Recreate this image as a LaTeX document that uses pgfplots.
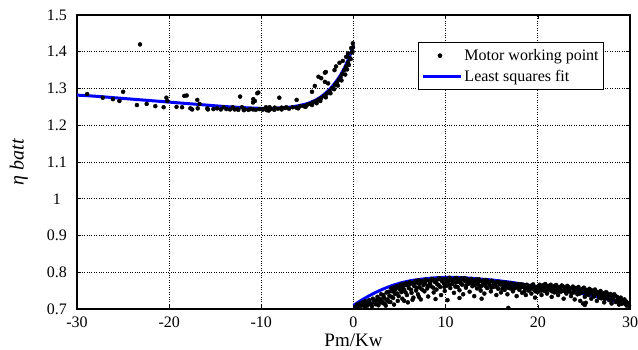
\documentclass[border=0pt]{standalone}
\usepackage{fontspec}
\setmainfont{Liberation Serif}
\usepackage{pgfplots}
\pgfplotsset{compat=1.18}
\definecolor{fitblue}{RGB}{0,0,255}
\pgfplotsset{
  dotlegend/.style={legend image code/.code={\draw[##1] plot coordinates {(17pt,0pt)};}},
  linelegend/.style={legend image code/.code={\draw[##1] (0pt,0pt) -- (38pt,0pt);}},
}
\begin{document}
\begin{tikzpicture}[x=1pt,y=1pt]
\path[use as bounding box] (-77,-40) rectangle (561,309);
\begin{axis}[
  at={(0,0)}, anchor=south west, scale only axis,
  width=553pt, height=294pt,
  xmin=-30, xmax=30, ymin=0.7, ymax=1.5,
  xtick={-30,-20,-10,0,10,20,30},
  xticklabels={-30,-20,-10,0,10,20,30},
  ytick={0.7,0.8,0.9,1,1.1,1.2,1.3,1.4,1.5},
  yticklabels={0.7,0.8,0.9,1,1.1,1.2,1.3,1.4,1.5},
  /pgf/number format/assume math mode=true,
  tick label style={font=\fontsize{16}{19}\selectfont, black},
  yticklabel style={anchor=center, xshift=-20pt},
  xticklabel style={anchor=base, yshift=-18pt, inner sep=0pt},
  grid=major,
  grid style={dotted, black, line width=0.8pt},
  axis line style={line width=1.6pt, black},
  tick style={black, line width=0.6pt},
  major tick length=4pt,
  xlabel={Pm/Kw},
  ylabel={\textit{η batt}},
  label style={font=\fontsize{20}{23}\selectfont},
  xlabel style={font=\fontsize{19}{22}\selectfont, at={(axis description cs:0.5,-0.126)}, anchor=base, inner sep=0pt},
  ylabel style={at={(axis description cs:-0.105,0.5)}, anchor=center},
  legend style={at={(0.953,0.908)}, anchor=north east,
    font=\fontsize{16}{19}\selectfont, draw=black, line width=0.6pt,
    inner xsep=3pt, inner ysep=5pt, row sep=4pt},
  legend cell align=left,
]
\addplot[only marks, mark=*, mark size=2pt, black, dotlegend]
coordinates {
(-28.9,1.285)(-27.2,1.275)(-26.1,1.271)(-25.4,1.266)(-25.0,1.291)(-23.16,1.420)
(-23.5,1.255)(-22.44,1.258)(-21.5,1.252)(-20.6,1.249)(-20.3,1.275)(-20.2,1.266)
(-19.2,1.250)(-18.6,1.249)(-18.36,1.280)(-18.1,1.281)(-17.7,1.246)(-17.5,1.243)
(-16.95,1.269)(-16.9,1.246)(-16.7,1.258)(-15.86,1.246)(-15.8,1.243)(-15.2,1.244)
(-14.8,1.246)(-14.4,1.243)(-14.1,1.249)(-13.8,1.244)(-13.4,1.243)(-13.1,1.249)
(-12.9,1.243)(-12.6,1.244)(-12.3,1.278)(-12.1,1.249)(-11.8,1.243)(-11.4,1.242)
(-10.87,1.271)(-10.7,1.266)(-10.44,1.287)(-10.33,1.289)(-10.9,1.262)(-10.9,1.243)
(-9.9,1.243)(-9.5,1.249)(-9.1,1.249)(-8.55,1.248)(-8.05,1.275)(-7.8,1.248)
(-7.3,1.249)(-6.17,1.269)(-4.5,1.291)(-4.2,1.307)(-3.8,1.332)(-3.5,1.328)
(-3.1,1.343)(-3.0,1.345)(-3.1,1.318)(-2.75,1.314)(-2.06,1.350)(-1.9,1.360)
(-1.52,1.370)(-1.16,1.375)(-0.8,1.386)(-0.6,1.395)(-0.25,1.410)(-0.07,1.423)
(-12.5,1.242)(-11.9,1.241)(-11.2,1.244)(-10.6,1.242)(-10.2,1.244)(-9.2,1.240)
(-9.8,1.243)(-9.4,1.241)(-9.0,1.244)(-8.6,1.242)(-8.2,1.245)(-7.8,1.243)
(-7.4,1.247)(-7.0,1.245)(-6.6,1.249)(-6.2,1.248)(-5.8,1.252)(-5.4,1.252)
(-5.0,1.256)(-4.7,1.258)(-4.4,1.262)(-4.1,1.265)(-3.8,1.270)(-3.5,1.274)
(-3.2,1.280)(-2.9,1.286)(-2.6,1.293)(-2.3,1.301)(-2.0,1.310)(-1.8,1.316)
(-1.6,1.323)(-1.4,1.331)(-1.2,1.340)(-1.0,1.350)(-0.8,1.360)(-0.6,1.371)
(-0.4,1.383)(-0.2,1.398)(-0.05,1.412)
(-6.0,1.246)(-5.2,1.250)(-4.5,1.255)(-4.0,1.260)(-3.6,1.266)(-3.0,1.276)
(-2.5,1.287)(-2.1,1.298)(-1.7,1.308)(-1.3,1.322)(-0.9,1.338)(-0.7,1.352)
(-0.5,1.364)(-0.3,1.380)(-0.1,1.400)
(0.2,0.706)(0.4,0.712)(0.5,0.708)(0.7,0.715)(0.8,0.709)(1.0,0.718)(1.1,0.711)
(1.3,0.721)(1.4,0.714)(1.5,0.709)(1.7,0.724)(1.8,0.716)(1.9,0.712)(2.1,0.728)
(2.2,0.719)(2.4,0.713)(2.5,0.724)(2.6,0.733)(2.8,0.717)(2.9,0.727)(3.0,0.740)
(3.1,0.721)(3.3,0.731)(3.4,0.714)(3.6,0.745)(3.7,0.726)(3.9,0.736)(4.0,0.719)
(4.2,0.748)(4.3,0.730)(4.5,0.741)(4.6,0.755)(4.8,0.722)(4.9,0.735)(5.0,0.760)
(5.2,0.746)(5.3,0.728)(5.5,0.752)(5.6,0.765)(5.8,0.738)(5.9,0.718)(6.0,0.757)
(6.2,0.769)(6.3,0.744)(6.5,0.731)(6.6,0.762)(6.8,0.750)(6.9,0.772)(7.0,0.740)
(7.2,0.758)(7.3,0.726)(7.4,0.775)(7.6,0.765)(7.7,0.748)(7.9,0.778)(8.0,0.756)
(8.1,0.734)(8.3,0.770)(8.4,0.762)(8.6,0.780)(8.7,0.745)(8.8,0.774)(9.0,0.753)
(9.1,0.767)(9.2,0.781)(9.4,0.760)(9.5,0.738)(9.6,0.776)(9.8,0.770)(9.9,0.749)
(10.0,0.782)(10.1,0.763)(10.2,0.724)(10.3,0.775)(10.5,0.757)(10.6,0.780)
(10.7,0.768)(10.9,0.744)(11.0,0.783)(11.1,0.772)(11.3,0.760)(11.4,0.778)
(11.5,0.751)(11.7,0.783)(11.8,0.766)(11.9,0.740)(12.1,0.776)(12.2,0.758)
(12.3,0.782)(12.5,0.769)(12.6,0.747)(12.7,0.779)(12.9,0.762)(13.0,0.772)
(13.1,0.735)(13.3,0.780)(13.4,0.756)(13.5,0.767)(13.7,0.776)(13.8,0.750)
(13.9,0.763)(14.1,0.778)(14.2,0.742)(14.3,0.770)(14.5,0.757)(14.6,0.775)
(14.8,0.765)(14.9,0.748)(15.0,0.777)(15.2,0.760)(15.3,0.770)(15.5,0.738)
(15.6,0.774)(15.7,0.755)(15.9,0.767)(16.0,0.745)(16.2,0.772)(16.3,0.760)
(16.4,0.752)(16.6,0.768)(16.7,0.740)(16.9,0.763)(17.0,0.756)(17.1,0.770)
(17.3,0.748)(17.4,0.765)(17.6,0.758)(17.7,0.735)(17.9,0.768)(18.0,0.752)
(18.1,0.762)(18.3,0.744)(18.4,0.766)(18.6,0.756)(18.7,0.738)(18.9,0.763)
(19.0,0.750)(19.1,0.758)(19.3,0.742)(19.4,0.765)(19.6,0.753)(19.7,0.731)
(19.9,0.760)(20.0,0.746)(20.1,0.763)(20.3,0.754)(20.4,0.738)(20.6,0.765)
(20.7,0.749)(20.9,0.758)(21.0,0.742)(21.2,0.762)(21.3,0.751)(21.5,0.733)
(21.6,0.758)(21.8,0.745)(21.9,0.764)(22.1,0.753)(22.2,0.738)(22.4,0.760)
(22.5,0.747)(22.7,0.762)(22.8,0.728)(23.0,0.755)(23.1,0.742)(23.3,0.760)
(23.4,0.749)(23.6,0.735)(23.7,0.757)(23.9,0.745)(24.0,0.726)(24.2,0.754)
(24.3,0.740)(24.5,0.750)(24.6,0.722)(24.8,0.745)(24.9,0.756)(25.1,0.733)
(25.2,0.717)(25.4,0.748)(25.5,0.738)(25.7,0.752)(25.8,0.728)(26.0,0.743)
(26.1,0.734)(26.3,0.748)(26.4,0.722)(26.6,0.738)(26.7,0.745)(26.9,0.729)
(27.0,0.740)(27.2,0.718)(27.3,0.734)(27.5,0.743)(27.7,0.725)(27.8,0.736)
(28.0,0.715)(28.1,0.730)(28.3,0.740)(28.5,0.722)(28.6,0.733)(28.8,0.712)
(28.9,0.726)(29.1,0.718)(29.3,0.722)(29.5,0.713)(29.7,0.716)(29.9,0.709)
(4.1,0.756)(4.4,0.759)(4.7,0.762)(5.1,0.766)(5.4,0.768)(5.7,0.770)(6.1,0.773)
(6.4,0.771)(6.7,0.776)(7.1,0.778)(7.5,0.772)(7.8,0.780)(8.2,0.777)(8.5,0.782)
(8.9,0.779)(9.3,0.784)(9.7,0.781)(10.4,0.785)(10.8,0.778)(11.2,0.784)
(11.6,0.777)(12.0,0.784)(12.4,0.775)(12.8,0.782)(13.2,0.777)(13.6,0.781)
(14.0,0.773)(14.4,0.779)(14.7,0.771)(15.1,0.775)(15.4,0.768)(15.8,0.774)
(16.1,0.766)(16.5,0.772)(16.8,0.769)(17.2,0.761)(17.5,0.768)(17.8,0.763)
(18.2,0.767)(18.5,0.760)(18.8,0.766)(19.2,0.762)(19.5,0.767)(19.8,0.756)
(20.2,0.766)(20.5,0.760)(20.8,0.768)(21.1,0.763)(21.4,0.766)(21.7,0.761)
(22.0,0.765)(22.3,0.758)(22.6,0.764)(22.9,0.759)(23.2,0.763)(23.5,0.755)
(23.8,0.761)(24.1,0.757)(24.4,0.760)(24.7,0.753)(25.0,0.758)(25.3,0.752)
(25.6,0.755)(25.9,0.750)(26.2,0.753)(26.5,0.745)(26.8,0.749)(27.1,0.743)
(27.4,0.746)(27.6,0.738)(27.9,0.741)(28.2,0.733)(28.4,0.736)(28.7,0.728)
(29.0,0.731)(29.2,0.724)(29.4,0.726)(29.6,0.720)(29.8,0.714)
(16.8,0.703)(1.2,0.706)(2.0,0.707)(3.5,0.709)(6.4,0.725)(7.1,0.733)(8.9,0.727)
(11.5,0.730)(13.9,0.728)(24.9,0.715)(25.1,0.711)
(3.25,0.738)(3.55,0.725)(3.85,0.747)(4.15,0.733)(4.45,0.750)(4.75,0.742)
(5.05,0.753)(5.35,0.758)(5.65,0.745)(5.95,0.763)(6.25,0.752)(6.55,0.767)
(6.85,0.758)(7.15,0.768)(7.45,0.753)(7.75,0.770)(8.05,0.763)(8.35,0.776)
(8.65,0.758)(8.95,0.772)(9.25,0.765)(9.55,0.778)(9.85,0.760)(10.15,0.774)
(10.45,0.766)(10.75,0.777)(11.05,0.761)(11.35,0.774)(11.65,0.770)(11.95,0.780)
(12.25,0.765)(12.55,0.776)(12.85,0.770)(13.15,0.765)(13.45,0.774)(13.75,0.760)
(14.05,0.768)(14.35,0.762)(14.65,0.772)(14.95,0.758)(15.25,0.766)(15.55,0.760)
(15.85,0.770)(16.15,0.755)(16.45,0.764)(16.75,0.758)(17.05,0.765)(17.35,0.753)
(17.65,0.762)(17.95,0.757)(18.25,0.760)(18.55,0.748)(18.85,0.758)(19.15,0.754)
(19.45,0.760)(19.75,0.748)(20.05,0.757)(20.35,0.750)(20.65,0.760)(20.95,0.752)
(21.25,0.757)(21.55,0.748)(21.85,0.756)(22.15,0.746)(22.45,0.754)(22.75,0.750)
(23.05,0.748)(23.35,0.754)(23.65,0.743)(23.95,0.751)(24.25,0.747)(24.55,0.742)
(24.85,0.750)(25.15,0.745)(25.45,0.741)(25.75,0.746)(26.05,0.737)(26.35,0.742)
(26.65,0.731)(26.95,0.737)(27.25,0.728)(27.55,0.733)(27.85,0.723)(28.15,0.727)
(28.45,0.719)(28.75,0.722)(29.05,0.714)(29.35,0.717)(29.65,0.709)
(0.6,0.711)(0.9,0.713)(1.6,0.717)(2.3,0.721)(2.7,0.710)(3.2,0.716)(3.8,0.720)
(4.4,0.712)(5.5,0.722)
};
\addlegendentry{Motor working point}
\addplot[fitblue, line width=3pt, smooth, linelegend]
coordinates {
(-30,1.282)(-28,1.279)(-26,1.275)(-24,1.271)(-22,1.267)(-20,1.263)(-18,1.259)
(-16,1.255)(-14,1.251)(-12,1.248)(-10,1.246)(-9,1.246)(-8,1.247)(-7,1.249)
(-6,1.253)(-5,1.259)(-4.5,1.264)(-4,1.270)(-3.5,1.278)(-3,1.288)(-2.5,1.300)
(-2,1.315)(-1.5,1.333)(-1,1.355)(-0.5,1.383)(0,1.418)
};
\addlegendentry{Least squares fit}
\addplot[fitblue, line width=3pt, smooth, forget plot]
coordinates {
(0,0.710)(0.5,0.718)(1,0.726)(2,0.740)(3,0.752)(4,0.762)(5,0.770)(6,0.776)
(7,0.780)(8,0.783)(9,0.785)(10,0.786)(11,0.786)(12,0.785)(13,0.783)(14,0.781)
(15,0.779)(16,0.776)(17,0.773)(18,0.769)(19,0.765)(20,0.760)(21,0.756)
(22,0.752)(23,0.748)(24,0.745)(25,0.741)(26,0.736)(27,0.730)(28,0.724)
(29,0.718)(30,0.711)
};
\end{axis}
\end{tikzpicture}
\end{document}
